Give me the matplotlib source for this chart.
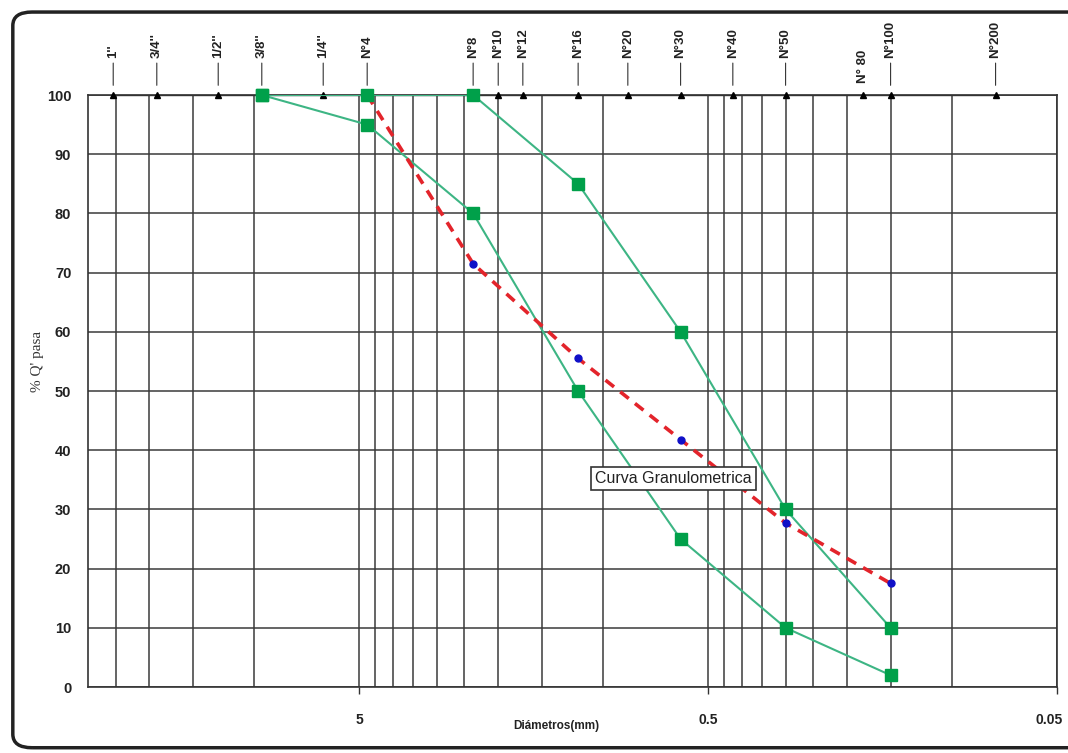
import numpy as np
import matplotlib
matplotlib.use("Agg")
import matplotlib.pyplot as plt
import matplotlib.transforms as mtransforms
from matplotlib.patches import FancyBboxPatch

# sieve openings (mm) and their names, drawn along the 100 % line
sieve_mm = [25.4, 19.05, 12.7, 9.525, 6.35, 4.75, 2.36, 2.0, 1.7, 1.18,
            0.85, 0.6, 0.425, 0.3, 0.18, 0.15, 0.075]
sieve_names = ["1''", "3/4''", "1/2''", "3/8''", "1/4''", "N°4", "N°8", "N°10",
               "N°12", "N°16", "N°20", "N°30", "N°40", "N°50", "N° 80", "N°100", "N°200"]

# envelope curves (upper / lower limits)
upper_d = [9.525, 4.75, 2.36, 1.18, 0.6, 0.3, 0.15]
upper_p = [100, 100, 100, 85, 60, 30, 10]
lower_d = [9.525, 4.75, 2.36, 1.18, 0.6, 0.3, 0.15]
lower_p = [100, 95, 80, 50, 25, 10, 2]

# sample gradation
curve_d = [4.75, 2.36, 1.18, 0.6, 0.3, 0.15]
curve_p = [100, 71.5, 55.5, 41.8, 27.7, 17.5]

x_major = [5, 0.5, 0.05]
x_minor = [25, 20, 15, 10, 4.5, 4, 3.5, 3, 2.5, 2, 1.5, 1,
           0.45, 0.4, 0.35, 0.3, 0.25, 0.2, 0.15, 0.1]

plt.rcParams['font.family'] = ['Liberation Sans', 'DejaVu Sans']

fig = plt.figure(figsize=(10.68, 7.53), dpi=100)
ax = fig.add_axes([0.0824, 0.0876, 0.9073, 0.7862])

green_line = '#3db584'
green_mark = '#00a04a'

ax.plot(sieve_mm, [100] * len(sieve_mm), '-', color='#333333', lw=1.0,
        marker='^', ms=4, mfc='black', mec='black', zorder=3, clip_on=False)

ax.plot(upper_d, upper_p, '-', color=green_line, lw=1.5, zorder=4)
ax.plot(lower_d, lower_p, '-', color=green_line, lw=1.5, zorder=4)
ax.plot(curve_d, curve_p, '--', color='#e3242b', lw=2.6, dashes=(3, 2.2), zorder=5)
ax.plot(curve_d, curve_p, 'o', color='#1010c8', ms=5, zorder=5)
ax.plot(upper_d, upper_p, 's', color=green_mark, ms=8.5, zorder=6, clip_on=False)
ax.plot(lower_d, lower_p, 's', color=green_mark, ms=8.5, zorder=6, clip_on=False)

ax.set_xscale('log')
ax.set_xlim(30, 0.05)
ax.set_ylim(0, 100)
ax.set_xticks(x_major)
ax.set_xticklabels(['5', '0.5', '0.05'])
ax.set_xticks(x_minor, minor=True)
ax.set_xticklabels([], minor=True)
ax.set_yticks(np.arange(0, 101, 10))
ax.grid(True, which='both', color='#3a3a3a', lw=1.1)
ax.set_axisbelow(True)
ax.tick_params(axis='x', which='major', length=5, width=1, color='#333333',
               labelsize=10, pad=14)
ax.tick_params(axis='x', which='minor', length=0)
ax.tick_params(axis='y', length=0, labelsize=10.5, pad=12)
for lab in ax.get_xticklabels() + ax.get_yticklabels():
    lab.set_fontweight('bold')
    lab.set_color('#222222')
# nudge the last x label so it stays inside the figure
last = ax.get_xticklabels()[-1]
last.set_transform(last.get_transform() +
                   mtransforms.ScaledTranslation(-8 / 100, 0, fig.dpi_scale_trans))
for s in ax.spines.values():
    s.set_color('#333333')
    s.set_linewidth(1.2)

ax.set_xlabel('Diámetros(mm)', fontsize=8.5, fontweight='bold', color='#222222')
ax.xaxis.set_label_coords(0.483, -0.055)
ax.set_ylabel("% Q' pasa", family='Liberation Serif', fontsize=11, color='#333333')
ax.yaxis.set_label_coords(-0.045, 0.55)

for d, name in zip(sieve_mm, sieve_names):
    if name == "N° 80":
        ax.annotate(name, xy=(d, 100), xytext=(0, 9), textcoords='offset points',
                    rotation=90, ha='center', va='bottom', fontsize=9.5,
                    fontweight='bold', color='#222222', annotation_clip=False)
    else:
        ax.annotate(name, xy=(d, 100), xytext=(0, 27), textcoords='offset points',
                    rotation=90, ha='center', va='bottom', fontsize=9.5,
                    fontweight='bold', color='#222222', annotation_clip=False,
                    arrowprops=dict(arrowstyle='-', lw=0.8, color='#333333',
                                    shrinkA=2, shrinkB=7))

ax.text(0.63, 35.3, 'Curva Granulometrica', fontsize=11.5, ha='center', va='center',
        color='#222222', zorder=7,
        bbox=dict(boxstyle='square,pad=0.25', fc='white', ec='#333333', lw=1.2))

border = FancyBboxPatch((0.012, 0.007), 1.02, 0.977, transform=fig.transFigure,
                        boxstyle='round,pad=0,rounding_size=0.018',
                        fc='none', ec='#222222', lw=2.5, clip_on=False)
fig.patches.append(border)

fig.savefig('out.png', dpi=100)
